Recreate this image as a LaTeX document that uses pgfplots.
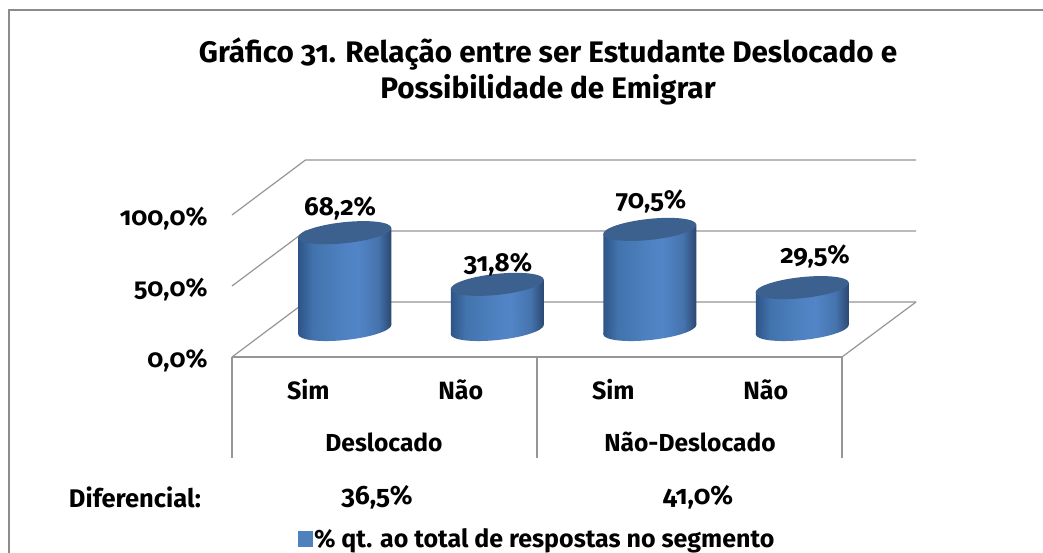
\documentclass[border=0pt]{standalone}
\usepackage{pgfplots}
\pgfplotsset{compat=1.18}
\usepackage{fontspec}
\setmainfont{Fira Sans}[Numbers=OldStyle]
\definecolor{wallgray}{RGB}{150,150,150}
\definecolor{bordergray}{RGB}{140,140,140}
\definecolor{captop}{RGB}{60,97,143}
\definecolor{legblue}{RGB}{79,129,189}
\definecolor{cA}{RGB}{46,84,135}
\definecolor{cB}{RGB}{66,115,173}
\definecolor{cC}{RGB}{79,130,194}
\definecolor{cD}{RGB}{82,133,199}
\definecolor{cE}{RGB}{69,115,173}
\definecolor{cF}{RGB}{43,71,112}
\pgfdeclarehorizontalshading{cyl}{100bp}{
  color(0bp)=(cA);
  color(25bp)=(cA);
  color(33bp)=(cB);
  color(50bp)=(cC);
  color(57bp)=(cD);
  color(68bp)=(cE);
  color(75bp)=(cF);
  color(100bp)=(cF)}
\pgfdeclareplotmark{cyltop}{%
  \pgftransformrotate{6}%
  \pgfpathellipse{\pgfpointorigin}{\pgfqpoint{46.8pt}{0pt}}{\pgfqpoint{0pt}{10.5pt}}%
  \pgfusepathqfill}
\pgfdeclareplotmark{cylbase}{%
  \pgftransformrotate{6}%
  \pgfpathellipse{\pgfpointorigin}{\pgfqpoint{46.8pt}{0pt}}{\pgfqpoint{0pt}{10.5pt}}%
  \pgfshadepath{cyl}{0}\pgfusepath{discard}}
\newcommand{\lab}[4][]{\node[font=\fontsize{#1}{#1}\selectfont\bfseries] at ({(#2-232)*1pt},{(357-#3)*1pt}) {#4};}
\begin{document}
\begin{tikzpicture}
\path[use as bounding box,fill=white] (-232pt,-196pt) rectangle (811pt,357pt);
% outer frame
\draw[bordergray,line width=1.5pt] (-223pt,-196pt) -- (-223pt,347pt) -- (811pt,347pt);
% walls
\draw[wallgray,line width=1.2pt] (684pt,55pt) -- (610pt,0pt);
\draw[wallgray,line width=1.2pt] (0pt,0pt) -- (73.5pt,55pt) -- (684pt,55pt);
\draw[wallgray,line width=1.2pt] (0pt,71pt) -- (73.5pt,126pt) -- (684pt,126pt);
\draw[wallgray,line width=1.2pt] (0pt,142pt) -- (73.5pt,197pt) -- (684pt,197pt);
\draw[wallgray,line width=1.2pt] (0pt,0pt) -- (610pt,0pt);
\foreach \x in {0,305,610}{\draw[wallgray,line width=1.2pt] (\x pt,0pt) -- (\x pt,-101pt);}
\begin{axis}[
  scale only axis, width=610pt, height=142pt,
  xmin=-0.5, xmax=3.5, ymin=0, ymax=100, clip=false,
  axis line style={draw=none}, major tick length=0pt,
  xtick={0,1,2,3}, xticklabels={Sim,Não,Sim,Não},
  ytick={0,50,100},
  yticklabels={{0,0\%},{50,0\%},{100,0\%}},
  x tick label style={font=\fontsize{25}{27}\selectfont\bfseries, anchor=center, yshift=-33pt},
  y tick label style={font=\fontsize{25.5}{27}\selectfont\bfseries, anchor=east, xshift=-21pt, yshift=-4pt},
  legend style={at={(axis description cs:0.5,-1.28)}, anchor=center, draw=none, fill=none,
    font=\fontsize{25}{27}\selectfont\bfseries, inner sep=0pt},
  legend cell align=left,
]
\addplot[forget plot, only marks, mark=cylbase, xshift=36.5pt, yshift=27.5pt]
  coordinates {(0,0) (1,0) (2,0) (3,0)};
\addplot[forget plot, ybar, bar width=93pt, bar shift=0pt, draw=none, shade, shading=cyl, yslant=0.097, xshift=36.5pt, yshift=16.56pt]
  coordinates {(0,68.2)};
\addplot[forget plot, ybar, bar width=93pt, bar shift=0pt, draw=none, shade, shading=cyl, yslant=0.097, xshift=36.5pt, yshift=1.77pt]
  coordinates {(1,31.8)};
\addplot[forget plot, ybar, bar width=93pt, bar shift=0pt, draw=none, shade, shading=cyl, yslant=0.097, xshift=36.5pt, yshift=-13.02pt]
  coordinates {(2,70.5)};
\addplot[forget plot, ybar, bar width=93pt, bar shift=0pt, draw=none, shade, shading=cyl, yslant=0.097, xshift=36.5pt, yshift=-27.81pt]
  coordinates {(3,29.5)};
\addplot[forget plot, only marks, mark=cyltop, mark options={fill=captop, draw=none}, fill=captop, xshift=36.5pt, yshift=27.5pt]
  coordinates {(0,68.2) (1,31.8) (2,70.5) (3,29.5)};
\addlegendimage{legend image code/.code={\fill[legblue] (2pt,-7.5pt) rectangle (16pt,7.5pt);}}
\addlegendentry{\% qt. ao total de respostas no segmento}
\end{axis}
\lab[29.7]{548}{54}{Gráfico 31. Relação entre ser Estudante Deslocado e}
\lab[29.7]{548}{90}{Possibilidade de Emigrar}
\lab[26]{340}{208}{68,2\%}
\lab[26]{498}{264}{31,8\%}
\lab[26]{651}{201}{70,5\%}
\lab[26]{815}{256}{29,5\%}
\lab[24.6]{384}{442}{Deslocado}
\lab[24.6]{690}{442}{Não-Deslocado}
\lab[25.5]{135}{497}{Diferencial:}
\lab[26.5]{377}{497}{36,5\%}
\lab[26.5]{698}{497}{41,0\%}
\end{tikzpicture}
\end{document}
